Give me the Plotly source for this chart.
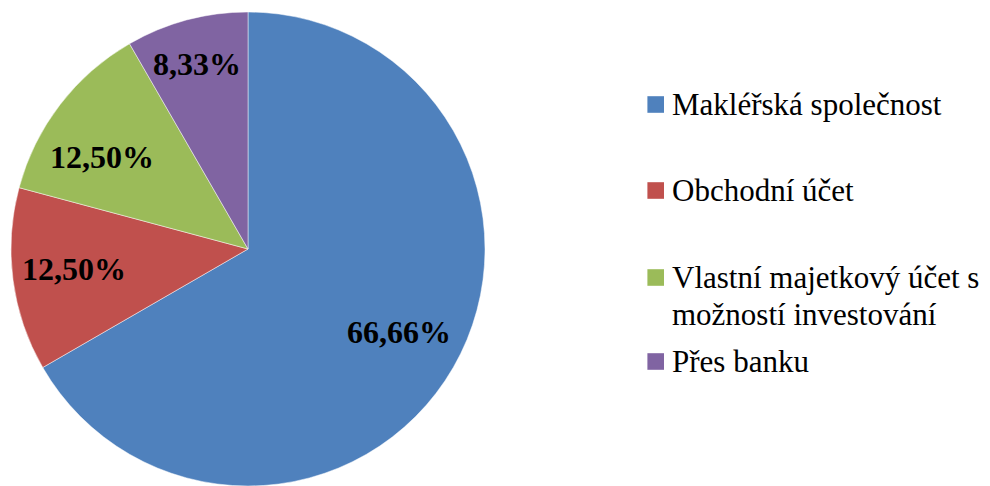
import math
import plotly.graph_objects as go

# ---- data ----
categories = ["Makléřská společnost", "Obchodní účet",
              "Vlastní majetkový účet s možností investování", "Přes banku"]
legend_labels = ["Makléřská společnost", "Obchodní účet",
                 "Vlastní majetkový účet s<br>možností investování", "Přes banku"]
shares = [66.66, 12.50, 12.50, 8.33]
colors = ["#4F81BD", "#C0504D", "#9BBB59", "#8064A2"]

pct_text = [f"{v:.2f}".replace(".", ",") + "%" for v in shares]

# ---- style ----
W, H = 990, 486
FONT = "Liberation Serif"
FS_LABEL = 32
FS_LEGEND = 31


def px_x(x):
    return x / W


def px_y(y):
    return 1 - y / H


cx, cy, r = 248, 249, 237                 # pie centre / radius in pixels
label_rfrac = [0.728, 0.741, 0.727, 0.809]  # radial placement of data labels
label_dang = [-1.4, 1.0, -5.4, -0.3]        # small angular nudges (deg)

fig = go.Figure()
fig.add_trace(go.Pie(
    labels=categories,
    values=shares,
    textinfo="none",
    marker=dict(colors=colors, line=dict(color="rgba(255,255,255,0.6)", width=0.8)),
    sort=False,
    direction="clockwise",
    rotation=0,
    showlegend=False,
    hovertext=pct_text,
    hoverinfo="label+text",
    domain=dict(x=[px_x(cx - r), px_x(cx + r)], y=[px_y(cy + r), px_y(cy - r)]),
))

# data labels placed along slice bisectors computed from cumulative shares
total = sum(shares)
cum = 0.0
for v, t, f, da in zip(shares, pct_text, label_rfrac, label_dang):
    mid = (cum + v / 2) / total * 2 * math.pi + math.radians(da)
    cum += v
    lx = cx + f * r * math.sin(mid)
    ly = cy - f * r * math.cos(mid)
    fig.add_annotation(xref="paper", yref="paper", x=px_x(lx), y=px_y(ly),
                       xanchor="center", yanchor="middle", text=f"<b>{t}</b>",
                       showarrow=False,
                       font=dict(family=FONT, size=FS_LABEL, color="black"))

# ---- legend (Excel-like spacing): squares + text lines ----
legend_rows_px = [104.5, 190.5, 277.5, 361.5]   # centre of first text line
line_gap = 36.6
sq = 16.6
for lab, col, yc in zip(legend_labels, colors, legend_rows_px):
    fig.add_shape(type="rect", xref="paper", yref="paper",
                  x0=px_x(647.4), x1=px_x(647.4 + sq),
                  y0=px_y(yc + sq / 2), y1=px_y(yc - sq / 2),
                  fillcolor=col, line=dict(width=0))
    for i, line in enumerate(lab.split("<br>")):
        fig.add_annotation(xref="paper", yref="paper",
                           x=px_x(670), y=px_y(yc + i * line_gap),
                           xanchor="left", yanchor="middle", align="left",
                           text=line, showarrow=False,
                           font=dict(family=FONT, size=FS_LEGEND, color="black"))

fig.update_layout(
    width=W, height=H,
    margin=dict(l=0, r=0, t=0, b=0),
    paper_bgcolor="white", plot_bgcolor="white",
)

fig.write_html("out.html")
